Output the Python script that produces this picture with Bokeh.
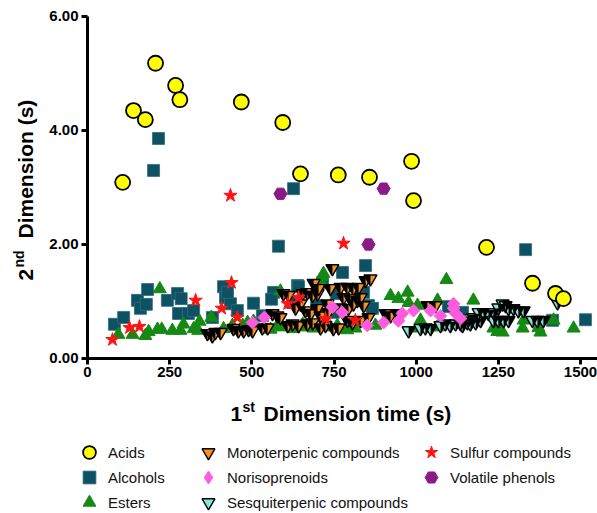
import math
from bokeh.plotting import figure
from bokeh.models import Legend, LegendItem, Label, FixedTicker, PrintfTickFormatter, Range1d, LinearAxis
from bokeh.embed import file_html
from bokeh.resources import INLINE

# ---------------- data ----------------
acids_x = [107, 140, 176, 207, 268, 281, 468, 594, 648, 763, 858, 986, 992, 1214, 1354, 1424, 1448]
acids_y = [3.09, 4.35, 4.19, 5.18, 4.79, 4.54, 4.50, 4.14, 3.24, 3.22, 3.18, 3.46, 2.77, 1.95, 1.32, 1.14, 1.05]

alcohols_x = [216, 201, 627, 581, 846, 776, 1333, 1515, 1415, 1098, 1141, 82, 110, 152, 161, 183, 179,
              243, 274, 285, 277, 307, 323, 380, 414, 420, 435, 456, 426, 505, 532, 566, 560, 639, 624,
              642, 697, 715, 757, 840, 855, 867, 748]
alcohols_y = [3.86, 3.30, 2.98, 1.97, 1.63, 1.51, 1.91, 0.68, 0.67, 0.91, 0.81, 0.60, 0.72, 1.02, 0.88, 1.21, 0.95,
              1.02, 1.14, 1.05, 0.79, 0.79, 0.84, 0.72, 1.26, 1.07, 0.96, 0.84, 1.16, 0.97, 0.75, 1.16, 1.04, 1.28, 0.98,
              1.26, 0.93, 1.33, 1.14, 1.16, 0.93, 0.88, 0.81]

esters_x = [94, 137, 176, 186, 213, 226, 220, 258, 283, 292, 323, 337, 341, 377, 414, 441, 472, 487, 505, 557,
            578, 587, 590, 627, 655, 663, 688, 711, 714, 718, 739, 760, 790, 815, 818, 876, 922, 946, 974, 977,
            1004, 1004, 1013, 1064, 1065, 1092, 1174, 1235, 1251, 1263, 1247, 1324, 1327, 1372, 1378, 1418, 1479]
esters_y = [0.42, 0.42, 0.40, 0.47, 0.51, 0.51, 1.22, 0.49, 0.49, 0.60, 0.52, 0.49, 0.65, 0.72, 0.52, 0.58, 0.58, 0.63, 0.65, 0.51,
            0.58, 1.18, 0.55, 0.52, 0.60, 0.55, 0.53, 1.33, 1.43, 1.49, 0.55, 0.58, 0.50, 0.53, 1.12, 0.58, 1.10, 1.05, 1.16, 0.98,
            0.93, 0.53, 0.67, 0.55, 1.02, 1.38, 1.02, 0.53, 0.54, 0.46, 0.47, 0.53, 0.67, 0.54, 0.46, 0.67, 0.53]

mono_x = [365, 380, 389, 405, 444, 459, 475, 490, 502, 532, 548, 563, 578, 609, 624, 642, 587, 596, 612, 654,
          669, 685, 700, 633, 648, 663, 679, 700, 709, 688, 703, 669, 685, 709, 724, 730, 733, 745, 846, 861,
          739, 770, 791, 809, 825, 779, 800, 821, 831, 770, 794, 809, 840, 791, 806, 748, 764, 831, 855, 907,
          922, 943, 1034, 1059]
mono_y = [0.44, 0.40, 0.46, 0.46, 0.53, 0.49, 0.49, 0.51, 0.49, 0.54, 0.54, 0.79, 0.75, 0.58, 0.61, 0.58, 0.72, 1.14, 1.11, 1.14,
          1.16, 1.11, 1.14, 0.89, 0.96, 0.84, 0.79, 0.88, 0.75, 1.32, 1.23, 0.61, 0.63, 0.54, 0.58, 0.96, 0.81, 1.58, 1.37, 1.40,
          1.23, 1.25, 1.25, 1.23, 1.25, 1.07, 1.05, 1.02, 1.07, 0.89, 0.88, 0.96, 0.93, 0.67, 0.63, 0.53, 0.54, 0.67, 0.72, 0.79,
          0.75, 0.79, 0.93, 0.93]

nor_x = [502, 538, 745, 775, 851, 901, 946, 958, 992, 1044, 1074, 1114, 1114, 1120, 1135]
nor_y = [0.63, 0.72, 0.90, 0.81, 0.58, 0.63, 0.66, 0.79, 0.84, 0.84, 0.75, 0.96, 0.88, 0.79, 0.70]

sesq_x = [977, 1013, 1028, 1044, 1074, 1089, 1104, 1120, 1135, 1141, 1156, 1144, 1159, 1174, 1165, 1181, 1196,
          1190, 1205, 1220, 1235, 1235, 1250, 1266, 1281, 1250, 1263, 1272, 1281, 1296, 1311, 1327, 1354, 1369,
          1387, 1430]
sesq_y = [0.49, 0.53, 0.54, 0.53, 0.58, 0.61, 0.58, 0.61, 0.61, 0.58, 0.63, 0.67, 0.70, 0.72, 0.61, 0.63, 0.67,
          0.81, 0.81, 0.79, 0.81, 0.67, 0.67, 0.67, 0.67, 0.89, 0.96, 0.93, 0.88, 0.88, 0.84, 0.84, 0.67, 0.67,
          0.67, 0.98]

sulfur_x = [76, 128, 158, 329, 408, 438, 456, 435, 609, 642, 724, 779, 815]
sulfur_y = [0.33, 0.54, 0.56, 1.02, 0.88, 1.33, 0.72, 2.86, 0.96, 1.07, 0.70, 2.02, 0.67]

phenols_x = [587, 901, 855]
phenols_y = [2.89, 2.98, 2.00]

x_ticks = [0, 250, 500, 750, 1000, 1250, 1500]
y_ticks = [0, 2, 4, 6]

# ---------------- figure ----------------
W, H = 597, 513
X0, X1 = -264.7, 1551.7
Y0, Y1 = -2.7193, 6.2807
p = figure(width=W, height=H, x_range=Range1d(X0, X1), y_range=Range1d(Y0, Y1),
           output_backend="svg", toolbar_location=None,
           x_axis_location=None, y_axis_location=None,
           min_border=0)
p.outline_line_color = None
p.grid.visible = False
p.background_fill_color = "white"
p.border_fill_color = "white"

xaxis = LinearAxis(fixed_location=0, bounds=(0, X1), ticker=FixedTicker(ticks=x_ticks))
yaxis = LinearAxis(fixed_location=0, bounds=(0, 6), ticker=FixedTicker(ticks=y_ticks),
                   formatter=PrintfTickFormatter(format="%.2f"))
for ax in (xaxis, yaxis):
    ax.axis_line_width = 3
    ax.axis_line_color = "black"
    ax.major_tick_line_width = 3
    ax.major_tick_line_color = "black"
    ax.major_tick_out = 6
    ax.major_tick_in = 0
    ax.minor_tick_line_color = None
    ax.major_label_text_font = "Liberation Sans"
    ax.major_label_text_font_style = "bold"
    ax.major_label_text_font_size = "15px"
    ax.major_label_text_color = "black"
    ax.major_label_standoff = 3
p.add_layout(xaxis, "below")
p.add_layout(yaxis, "left")

pxx = W / (X1 - X0)
pxy = H / (Y1 - Y0)


def half_tri(xs, ys, size, side):
    r = size / 2.0
    a = r * math.sqrt(3) / 3.0
    pxs, pys = [], []
    for x, y in zip(xs, ys):
        top = y + a / pxy
        bot = y - 2 * a / pxy
        if side == "left":
            pxs.append([x - r / pxx, x, x])
        else:
            pxs.append([x, x + r / pxx, x])
        pys.append([top, top, bot])
    return pxs, pys


TRI = 13
ORANGE, CYAN, PINK = "#F7901E", "#86E6D8", "#FF5BE0"
r_alc = p.scatter(alcohols_x, alcohols_y, marker="square", size=12, fill_color="#0E5163", line_color="#2F6E7E", line_width=0.8)
r_est = p.scatter(esters_x, esters_y, marker="triangle", size=13, fill_color="#148A14", line_color="#148A14")
r_mono = p.scatter(mono_x, mono_y, marker="inverted_triangle", size=TRI, fill_color=ORANGE, line_color="black", line_width=1.4)
mx, my = half_tri(mono_x, mono_y, TRI, "left")
p.patches(mx, my, fill_color="black", line_color=None)
r_sesq = p.scatter(sesq_x, sesq_y, marker="inverted_triangle", size=TRI, fill_color=CYAN, line_color="black", line_width=1.4)
sx, sy = half_tri(sesq_x, sesq_y, TRI, "right")
p.patches(sx, sy, fill_color="black", line_color=None)
r_nor = p.scatter(nor_x, nor_y, marker="square", angle=math.pi / 4, size=9, fill_color=PINK, line_color=PINK)
r_sul = p.scatter(sulfur_x, sulfur_y, marker="star", size=14, fill_color="#FF1414", line_color="#FF1414")
r_phe = p.scatter(phenols_x, phenols_y, marker="hex", size=13, fill_color="#8B1A87", line_color="#8B1A87")
r_acid = p.scatter(acids_x, acids_y, marker="circle", size=15, fill_color="#FFFF00", line_color="black", line_width=1.8)

# zero-size diamond twin of the norisoprenoids: only its legend swatch is visible
# (legend swatches ignore the marker angle used above)
r_nor_key = p.scatter(nor_x, nor_y, marker="diamond", size=0, fill_color=PINK, line_color=PINK)

# ---------------- legend (one small legend per entry) ----------------
rows = [452, 477, 502]          # canvas y of row centres
cols = [89, 208, 431]           # canvas x of marker centres
entries = [
    ("Acids", r_acid, 0, 0, 32),
    ("Alcohols", r_alc, 0, 1, 32),
    ("Esters", r_est, 0, 2, 32),
    ("Monoterpenic compounds", r_mono, 1, 0, 32),
    ("Norisoprenoids", r_nor_key, 1, 1, 34),
    ("Sesquiterpenic compounds", r_sesq, 1, 2, 32),
    ("Sulfur compounds", r_sul, 2, 0, 32),
    ("Volatile phenols", r_phe, 2, 1, 32),
]
for label, rend, c, rr, gh in entries:
    lg = Legend(items=[LegendItem(label=label, renderers=[rend])],
                location=(cols[c] - 16, H - rows[rr] - gh / 2),
                glyph_width=32, glyph_height=gh, label_standoff=3,
                label_text_font="Liberation Sans", label_text_font_size="15px", label_text_color="#111111",
                padding=0, margin=0, spacing=0, border_line_color=None, background_fill_alpha=0)
    p.add_layout(lg, "center")

# ---------------- axis titles with superscripts ----------------
BOLD = dict(text_font="Liberation Sans", text_font_style="bold", text_color="black",
            x_units="screen", y_units="screen", text_baseline="middle", text_align="left")
p.add_layout(Label(x=230, y=H - 413, text="1", text_font_size="21px", **BOLD))
p.add_layout(Label(x=242, y=H - 406, text="st", text_font_size="14px", **BOLD))
p.add_layout(Label(x=263, y=H - 413, text="Dimension time (s)", text_font_size="21px", **BOLD))

p.add_layout(Label(x=25, y=H - 280, text="2", angle=math.pi / 2, text_font_size="21px", **BOLD))
p.add_layout(Label(x=18, y=H - 267, text="nd", angle=math.pi / 2, text_font_size="14px", **BOLD))
p.add_layout(Label(x=25, y=H - 238, text="Dimension  (s)", angle=math.pi / 2, text_font_size="21px", **BOLD))

open("out.html", "w").write(file_html(p, INLINE))
